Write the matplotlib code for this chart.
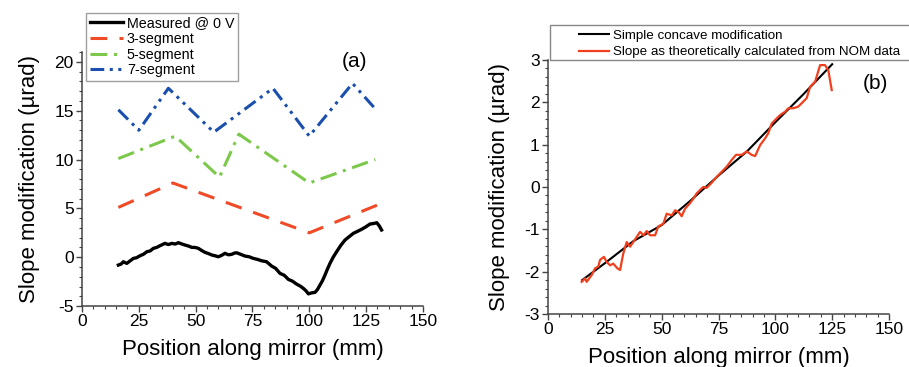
import numpy as np
import matplotlib
matplotlib.use('Agg')
import matplotlib.pyplot as plt
from matplotlib.ticker import MultipleLocator
from matplotlib.patches import Rectangle

plt.rcParams['font.family'] = ['Liberation Sans', 'DejaVu Sans']
plt.rcParams['axes.unicode_minus'] = False

# ---- panel (a) data ----
meas_x = [16.0, 17.2, 18.2, 19.7, 21.0, 22.6, 24.0, 25.5, 27.0, 28.5, 30.0, 31.4, 32.8,
          34.3, 36.5, 38.0, 39.5, 41.0, 42.4, 44.0, 45.3, 46.8, 48.3, 49.8, 51.2, 52.6,
          54.1, 55.6, 57.1, 58.5, 60.0, 61.5, 62.9, 64.4, 65.9, 67.0, 68.0, 69.8, 71.7,
          73.5, 75.4, 77.2, 79.0, 81.2, 83.4, 85.2, 87.1, 89.0, 90.8, 92.6, 94.4, 96.0,
          97.4, 98.6, 99.6, 101.0, 102.5, 103.6, 104.7, 105.8, 106.9, 108.0, 109.1, 110.5,
          112.0, 113.8, 115.7, 117.5, 119.4, 121.2, 123.0, 124.8, 126.7, 128.2, 129.7,
          130.8, 131.8]
meas_y = [-0.80, -0.70, -0.46, -0.63, -0.40, -0.12, -0.05, 0.15, 0.30, 0.56, 0.65, 0.91,
          1.00, 1.18, 1.42, 1.30, 1.42, 1.35, 1.49, 1.35, 1.25, 1.15, 1.01, 1.00, 0.91,
          0.70, 0.50, 0.38, 0.23, 0.15, 0.05, 0.20, 0.40, 0.25, 0.30, 0.42, 0.46, 0.30,
          0.12, 0.05, -0.12, -0.22, -0.36, -0.46, -0.90, -1.14, -1.65, -1.85, -2.27, -2.45,
          -2.75, -2.95, -3.19, -3.45, -3.75, -3.65, -3.60, -3.30, -2.85, -2.40, -1.82, -1.20,
          -0.63, 0.00, 0.56, 1.20, 1.76, 2.10, 2.45, 2.65, 2.86, 3.10, 3.40, 3.45, 3.53,
          3.20, 2.79]

seg3_x = [16, 40, 100, 130]
seg3_y = [5.1, 7.6, 2.5, 5.35]

seg5_x = [16, 41, 60.5, 69, 100, 129]
seg5_y = [10.1, 12.4, 8.2, 12.6, 7.6, 10.0]

seg7_x = [16, 25, 38, 58, 84, 100, 119, 129]
seg7_y = [15.1, 13.0, 17.3, 12.8, 17.3, 12.4, 17.8, 15.2]

# ---- panel (b) data ----
conc_x = [15, 25, 37.5, 50, 62.5, 75, 87.5, 100, 112.5, 125]
conc_y = [-2.2, -1.8, -1.28, -0.9, -0.33, 0.27, 0.84, 1.53, 2.2, 2.9]

nom_x = [14.8, 16.3, 17.0, 19.2, 20.7, 22.1, 22.9, 24.6, 25.8, 27.3, 28.7, 30.5, 31.7,
         33.1, 34.6, 36.1, 37.5, 39.0, 40.5, 42.0, 43.4, 44.9, 47.1, 48.5, 50.7, 52.2,
         54.4, 55.9, 57.4, 58.8, 60.3, 62.5, 64.0, 65.4, 66.9, 68.3, 69.8, 72.0, 74.2,
         76.4, 78.6, 80.8, 82.7, 85.2, 87.4, 89.6, 91.1, 93.3, 95.5, 96.9, 98.4, 100.6,
         102.1, 104.3, 105.7, 107.9, 110.1, 111.6, 113.8, 115.3, 117.5, 119.7, 121.8,
         123.3, 124.8]
nom_y = [-2.24, -2.16, -2.24, -2.08, -1.92, -1.88, -1.72, -1.65, -1.77, -1.85, -1.81,
         -1.92, -1.96, -1.57, -1.30, -1.41, -1.30, -1.18, -1.06, -1.14, -1.04, -1.14,
         -1.14, -0.93, -0.87, -0.63, -0.67, -0.55, -0.59, -0.69, -0.51, -0.38, -0.27,
         -0.15, -0.07, 0.00, -0.02, 0.10, 0.24, 0.36, 0.48, 0.64, 0.76, 0.76, 0.84, 0.76,
         0.73, 0.99, 1.15, 1.27, 1.50, 1.62, 1.70, 1.78, 1.86, 1.86, 1.90, 1.98, 2.10,
         2.37, 2.49, 2.88, 2.88, 2.76, 2.29]

fig = plt.figure(figsize=(9.09, 3.67), dpi=100)

spine_col = '#444444'
lab_fs = 16
tick_fs = 12.5


def style_axes(ax):
    for s in ['top', 'right']:
        ax.spines[s].set_visible(False)
    for s in ['left', 'bottom']:
        ax.spines[s].set_color(spine_col)
        ax.spines[s].set_linewidth(1.1)
    ax.tick_params(which='major', direction='out', length=4, width=1.0,
                   color=spine_col, labelsize=tick_fs, pad=2)
    ax.tick_params(which='minor', direction='out', length=2, width=0.8, color=spine_col)
    ax.set_xlim(0, 150)
    ax.xaxis.set_major_locator(MultipleLocator(25))
    ax.xaxis.set_minor_locator(MultipleLocator(5))
    ax.set_xlabel('Position along mirror (mm)', fontsize=lab_fs, labelpad=7)
    ax.set_ylabel('Slope modification (\u00b5rad)', fontsize=lab_fs, labelpad=10)


# ---- (a) ----
ax1 = fig.add_axes([0.0902, 0.166, 0.3751, 0.692])
ax1.plot(meas_x, meas_y, color='black', lw=2.4, label='Measured @ 0 V')
ax1.plot(seg3_x, seg3_y, color='#f04a26', lw=2.2, ls=(0, (5.5, 4)), label='3-segment')
ax1.plot(seg5_x, seg5_y, color='#7cc84a', lw=2.2, ls=(0, (5.5, 2.2, 1, 2.2)), label='5-segment')
ax1.plot(seg7_x, seg7_y, color='#1a4fae', lw=2.2, ls=(0, (4.5, 1.8, 1, 1.8, 1, 1.8)),
         label='7-segment')
style_axes(ax1)
ax1.set_ylim(-5, 21)
ax1.yaxis.set_major_locator(MultipleLocator(5))
ax1.yaxis.set_minor_locator(MultipleLocator(1))
leg1 = ax1.legend(loc='upper left', bbox_to_anchor=(0.012, 1.155), fontsize=10.3,
                  frameon=True, fancybox=False, handlelength=2.3, handletextpad=0.3,
                  borderpad=0.25, labelspacing=0.12, borderaxespad=0)
leg1.get_frame().set_edgecolor('#888888')
leg1.get_frame().set_linewidth(1.0)
ax1.text(0.798, 0.965, '(a)', transform=ax1.transAxes, fontsize=15,
         ha='center', va='center')

# ---- (b) ----
ax2 = fig.add_axes([0.6029, 0.1444, 0.3751, 0.6921])
ax2.plot(conc_x, conc_y, color='black', lw=1.5, label='Simple concave modification')
ax2.plot(nom_x, nom_y, color='#f0401e', lw=1.6,
         label='Slope as theoretically calculated from NOM data')
style_axes(ax2)
ax2.set_ylim(-3, 3)
ax2.yaxis.set_major_locator(MultipleLocator(1))
ax2.yaxis.set_minor_locator(MultipleLocator(0.2))
leg2 = ax2.legend(loc='upper left', bbox_to_anchor=(0.082, 1.13), fontsize=9.6,
                  frameon=False, handlelength=2.3, handletextpad=0.3,
                  borderpad=0.2, labelspacing=0.3, borderaxespad=0)
fig.patches.append(Rectangle((550 / 909, 1 - 60 / 367), 0.5, 35 / 367,
                             transform=fig.transFigure, fill=False,
                             edgecolor='#888888', lw=1.0))
ax2.text(0.959, 0.909, '(b)', transform=ax2.transAxes, fontsize=15,
         ha='center', va='center')

fig.savefig('out.png', dpi=100)
